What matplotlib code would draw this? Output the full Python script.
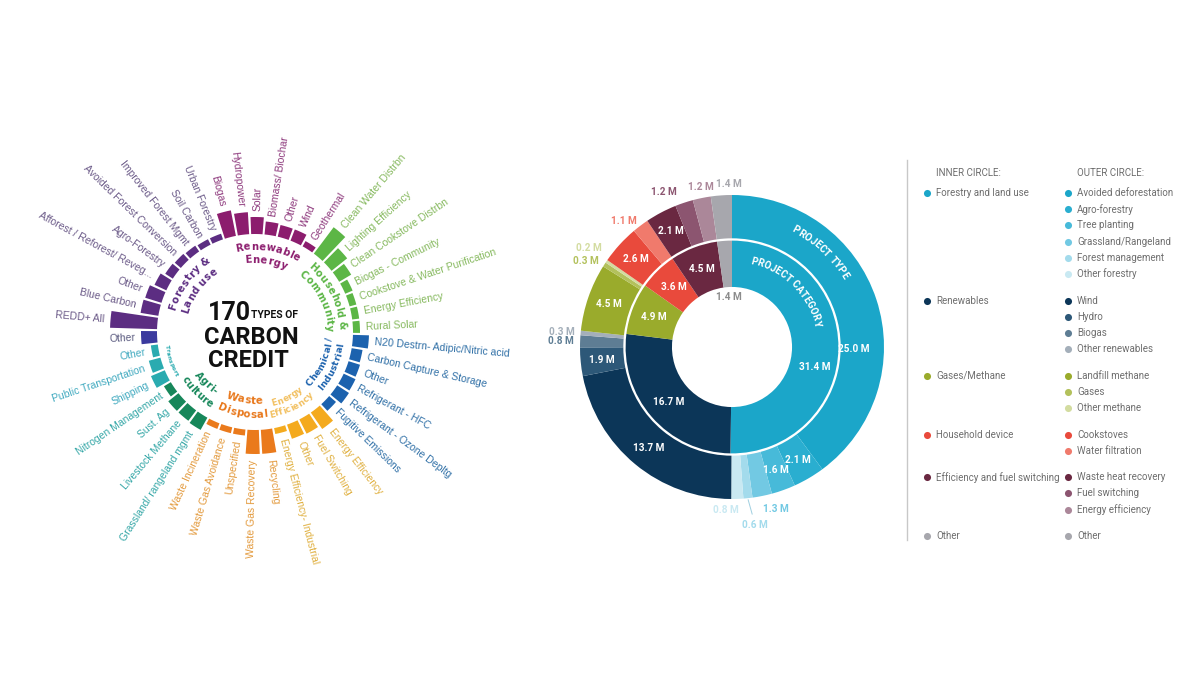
import numpy as np
import matplotlib
matplotlib.use("Agg")
import matplotlib.pyplot as plt
from matplotlib.font_manager import FontProperties
from matplotlib.textpath import TextToPath

W, H, DPI = 1200, 675, 100
NARROW = ["Liberation Sans Narrow", "Roboto", "DejaVu Sans"]
SANS = ["Liberation Sans", "DejaVu Sans"]

# ---------------- left chart: 170 types of carbon credit ----------------
group_titles = [["Forestry &", "Land use"], ["Renewable", "Energy"], ["Household &", "Community"],
                ["Chemical /", "Industrial"], ["Energy", "Efficiency"], ["Waste", "Disposal"],
                ["Agri-", "culture"], ["Transport"], []]
group_items = [
    ["REDD+ All", "Blue Carbon", "Other", "Afforest / Reforest/ Reveg...", "Agro-Forestry",
     "Avoided Forest Conversion", "Improved Forest Mgmt", "Soil Carbon", "Urban Forestry"],
    ["Biogas", "Hydropower", "Solar", "Biomass/ Biochar", "Other", "Wind", "Geothermal"],
    ["Clean Water Distrbn", "Lighting Efficiency", "Clean Cookstove Distrbn", "Biogas - Community",
     "Cookstove & Water Purification", "Energy Efficiency", "Rural Solar"],
    ["N20 Destrn- Adipic/Nitric acid", "Carbon Capture & Storage", "Other", "Refrigerant - HFC",
     "Refrigerant - Ozone Depltg", "Fugitive Emissions"],
    ["Energy Efficiency", "Fuel Switching", "Other", "Energy Efficiency- Industrial"],
    ["Recycling", "Waste Gas Recovery", "Unspecified", "Waste Gas Avoidance", "Waste Incineration"],
    ["Grassland/ rangeland mgmt", "Livestock Methane", "Sust. Ag", "Nitrogen Management"],
    ["Shipping", "Public Transportation", "Other"],
    ["Other"],
]
group_values = [
    [47, 18, 17, 13, 9, 8, 7, 6, 6],
    [26, 22, 17, 13, 12, 12, 6],
    [33, 20, 14, 8, 7, 7, 7],
    [16, 11, 12, 13, 14, 9],
    [20, 16, 15, 6],
    [24, 24, 6, 6, 6],
    [14, 13, 13, 8],
    [15, 12, 7],
    [16],
]
bar_colors = ["#5c2d82", "#8c1d6e", "#5cb646", "#1c62ae", "#f4aa1e", "#ea7a1c", "#17875a", "#2aabb0", "#3b3a9e"]
label_colors = ["#6b5a88", "#8e3a7d", "#86b95e", "#2f6fa6", "#e0b040", "#e39a3d", "#35a7a7", "#3fa9bf", "#5b5b80"]
title_colors = ["#5c2d82", "#8c1d6e", "#5cb646", "#1c62ae", "#f2c060", "#e8781c", "#17875a", "#2aabb0", "#3b3a9e"]

# ---------------- right chart: project category / type ----------------
inner_labels = ["Forestry and land use", "Renewables", "Gases/Methane", "Household device",
                "Efficiency and fuel switching", "Other"]
inner_values = [31.4, 16.7, 4.9, 3.6, 4.5, 1.4]
inner_colors = ["#1ba6c9", "#0c3658", "#9aab2c", "#e94a3c", "#6a2841", "#a7a7ad"]
outer_labels = [["Avoided deforestation", "Agro-forestry", "Tree planting", "Grassland/Rangeland",
                 "Forest management", "Other forestry"],
                ["Wind", "Hydro", "Biogas", "Other renewables"],
                ["Landfill methane", "Gases", "Other methane"],
                ["Cookstoves", "Water filtration"],
                ["Waste heat recovery", "Fuel switching", "Energy efficiency"],
                ["Other"]]
outer_values = [[25.0, 2.1, 1.6, 1.3, 0.6, 0.8], [13.7, 1.9, 0.8, 0.3], [4.5, 0.3, 0.2],
                [2.6, 1.1], [2.1, 1.2, 1.2], [1.4]]
outer_colors = [["#1ba6c9", "#2aaed0", "#47bad9", "#72c9e3", "#a3dbec", "#c9e9f2"],
                ["#0c3658", "#2d5878", "#5e7d94", "#a4afba"],
                ["#9aab2c", "#b3c15c", "#d3dca0"],
                ["#e94a3c", "#f07a6c"],
                ["#6a2841", "#8c5570", "#ab8799"],
                ["#a7a7ad"]]

t2p = TextToPath()


def arc_text(ax, s, theta_c, r, ppu, polar, cw, size, color, family, weight="bold", track=0.03):
    # characters laid along a circle, one by one
    fp = FontProperties(family=family, weight=weight, size=size)
    size_px = size * DPI / 72
    widths = []
    for ch in s:
        if ch == " ":
            widths.append(0.28 * size_px)
        else:
            w = t2p.get_text_width_height_descent(ch, fp, ismath=False)[0] * DPI / 72
            widths.append(w + track * size_px)
    widths = np.array(widths)
    pos = np.cumsum(widths) - widths / 2 - widths.sum() / 2
    cap = 0.72 * size_px / ppu
    rb = r - cap / 2 if cw else r + cap / 2
    for ch, p in zip(s, pos):
        dth = p / (rb * ppu)
        th = theta_c - dth if cw else theta_c + dth
        rot = np.degrees(th) - 90 if cw else np.degrees(th) + 90
        xy = (th, rb) if polar else (rb * np.cos(th), rb * np.sin(th))
        ax.text(*xy, ch, rotation=rot, rotation_mode="anchor", ha="center", va="baseline",
                fontproperties=fp, color=color)


fig = plt.figure(figsize=(W / DPI, H / DPI), dpi=DPI)
bg = fig.add_axes([0, 0, 1, 1])
bg.set_xlim(0, W)
bg.set_ylim(H, 0)
bg.axis("off")

# left radial bars
CX, CY, RMAX, R0 = 255, 332, 235, 98
axl = fig.add_axes([(CX - RMAX) / W, (H - CY - RMAX) / H, 2 * RMAX / W, 2 * RMAX / H], projection="polar")
axl.set_ylim(0, RMAX)
axl.set_axis_off()

title_radii = [[86, 73], [86, 73], [87, 75], [74, 86], [73, 84], [68, 82], [71, 84], [89], []]
title_cw = [True, True, True, False, False, False, False, False, False]
title_size = [7.2, 7.2, 7.0, 6.6, 6.2, 7.4, 7.0, 4.2, 7.0]

n = sum(len(g) for g in group_items)
step = 2 * np.pi / n
start = np.radians(175)
k = 0
for g, (items, vals) in enumerate(zip(group_items, group_values)):
    thetas = start - step * np.arange(k, k + len(items))
    axl.bar(thetas, vals, width=step * 0.85, bottom=R0, color=bar_colors[g], linewidth=0)
    for th, name, v in zip(thetas, items, vals):
        d = (np.degrees(th) + 180) % 360 - 180
        if -90 <= d <= 90:
            rot, ha = d, "left"
        else:
            rot, ha = (d - 180 if d > 0 else d + 180), "right"
        axl.text(th, R0 + v + 6, name, rotation=rot, rotation_mode="anchor", ha=ha, va="center",
                 fontsize=7.5, color=label_colors[g], family=SANS)
    tc = thetas.mean()
    for line, r in zip(group_titles[g], title_radii[g]):
        arc_text(axl, line, tc, r, 1, True, title_cw[g], title_size[g], title_colors[g], ["DejaVu Sans"])
    k += len(items)

# centre title
bg.text(208, 320, "170", fontsize=18, weight="bold", family=NARROW, ha="left", va="baseline", color="#111111")
bg.text(251, 318, "TYPES OF", fontsize=7.5, weight="bold", family=NARROW, ha="left", va="baseline", color="#111111")
bg.text(251, 344, "CARBON", fontsize=17, weight="bold", family=NARROW, ha="center", va="baseline", color="#111111")
bg.text(248, 367, "CREDIT", fontsize=17, weight="bold", family=NARROW, ha="center", va="baseline", color="#111111")

# right donut
DX, DY, PPU = 732, 347, 152
axr = fig.add_axes([(DX - 1.25 * PPU) / W, (H - DY - 1.25 * PPU) / H, 2.5 * PPU / W, 2.5 * PPU / H])
flat_vals = [v for grp in outer_values for v in grp]
flat_cols = [c for grp in outer_colors for c in grp]
axr.pie(flat_vals, radius=1.0, colors=flat_cols, startangle=90, counterclock=False,
        wedgeprops=dict(width=0.285, linewidth=0))
axr.pie(inner_values, radius=0.70, colors=inner_colors, startangle=90, counterclock=False,
        wedgeprops=dict(width=0.305, linewidth=0))
axr.set_xlim(-1.25, 1.25)
axr.set_ylim(-1.25, 1.25)
axr.set_aspect("equal")
axr.axis("off")


def mids(vals):
    v = np.asarray(vals, float)
    c = np.cumsum(v) - v / 2
    return np.radians(90 - 360 * c / v.sum())


lab_font = dict(family=NARROW, weight="bold", fontsize=7.2)
inside_override = {0: (np.radians(-1), 0.80)}
nudge = {3: (12, -2), 5: (-12, 0), 12: (0, 10), 16: (-5, 0), 18: (8, 0)}
for i, (v, th, col) in enumerate(zip(flat_vals, mids(flat_vals), flat_cols)):
    txt = f"{v:.1f} M"
    if v >= 1.5:
        th2, r = inside_override.get(i, (th, 0.86))
        axr.text(r * np.cos(th2), r * np.sin(th2), txt, ha="center", va="center", color="white", **lab_font)
    elif i == 4:
        axr.annotate(txt, (1.01 * np.cos(th), 1.01 * np.sin(th)), xytext=(7 * 0.72, -25 * 0.72),
                     textcoords="offset points", ha="center", va="center", color=col,
                     arrowprops=dict(arrowstyle="-", color="#9fcfe0", lw=0.7, shrinkA=2, shrinkB=0),
                     **lab_font)
    else:
        x, y = 1.04 * np.cos(th), 1.04 * np.sin(th)
        ha = "right" if x < -0.25 else ("left" if x > 0.25 else "center")
        va = "bottom" if y > 0.9 else ("top" if y < -0.9 else "center")
        dx, dy = nudge.get(i, (0, 0))
        axr.annotate(txt, (x, y), xytext=(dx * 0.72, dy * 0.72), textcoords="offset points",
                     ha=ha, va=va, color=col, **lab_font)

inner_override = {0: (np.radians(-13.5), 0.56)}
for i, (v, th) in enumerate(zip(inner_values, mids(inner_values))):
    txt = f"{v:.1f} M"
    if v >= 2:
        th2, r = inner_override.get(i, (th, 0.55))
        axr.text(r * np.cos(th2), r * np.sin(th2), txt, ha="center", va="center", color="white", **lab_font)
    else:
        axr.text(0.33 * np.cos(th), 0.33 * np.sin(th), txt, ha="center", va="center", color="#8c8c8c", **lab_font)

arc_text(axr, "PROJECT TYPE", np.radians(47), 0.88, PPU, False, True, 7.2, "white", NARROW, track=0.0)
arc_text(axr, "PROJECT CATEGORY", np.radians(45.5), 0.585, PPU, False, True, 7.0, "white", NARROW, track=0.0)

# legend
bg.plot([907, 907], [160, 540], color="#c8c8c8", lw=1)
leg_font = dict(family=NARROW, fontsize=7.0, color="#6e6e6e", va="center", ha="left")
bg.text(936, 173, "INNER CIRCLE:", **leg_font)
bg.text(1077, 173, "OUTER CIRCLE:", **leg_font)
y = 193
for i in range(len(inner_labels)):
    bg.scatter([927], [y], s=26, color=inner_colors[i], linewidths=0)
    bg.text(936, y, inner_labels[i], **leg_font)
    for j, (lab, col) in enumerate(zip(outer_labels[i], outer_colors[i])):
        bg.scatter([1068], [y + j * 16.2], s=26, color=col, linewidths=0)
        bg.text(1077, y + j * 16.2, lab, **leg_font)
    y += (len(outer_labels[i]) - 1) * 16.2 + 26.5

fig.savefig("out.png", dpi=DPI, facecolor="white")
